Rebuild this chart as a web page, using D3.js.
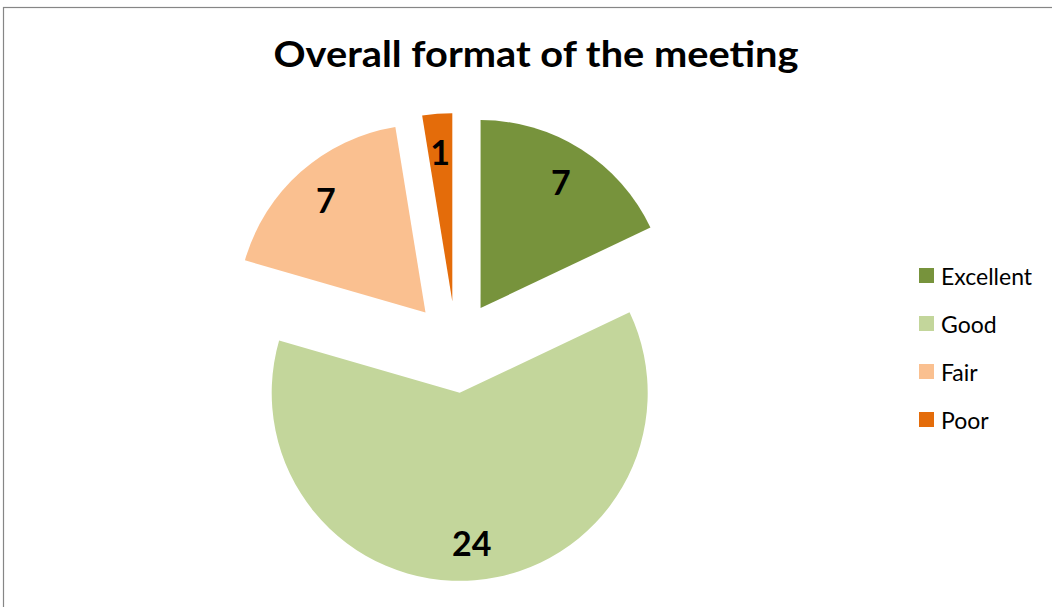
<!DOCTYPE html>
<html><head><meta charset="utf-8">
<script src="https://cdn.jsdelivr.net/npm/d3@7"></script>
<style>body{margin:0;background:#fff;} svg{display:block;}</style>
</head><body>
<svg id="c" width="1052" height="607"></svg>
<script>
const categories = ["Excellent", "Good", "Fair", "Poor"];
const values = [7, 24, 7, 1];
const colors = ["#77933C", "#C3D69B", "#FAC090", "#E46C0A"];
const title = "Overall format of the meeting";

const svg = d3.select("#c");
const font = "Lato, 'Open Sans', sans-serif";
svg.append("rect").attr("x",3.5).attr("y",7.5).attr("width",1200).attr("height",800)
  .attr("fill","#fff").attr("stroke","#868686").attr("stroke-width",1.2);

svg.append("text").attr("x",536).attr("y",67).attr("text-anchor","middle")
  .attr("font-family",font).attr("font-weight","bold").attr("font-size",37)
  .attr("textLength",525).attr("lengthAdjust","spacingAndGlyphs")
  .attr("fill","#000").text(title);

const cx = 456, cy = 347, r = 188, explode = 46;
const pie = d3.pie().sort(null).value(d=>d)(values);
const arc = d3.arc().innerRadius(0).outerRadius(r);
const g = svg.append("g").attr("transform",`translate(${cx},${cy})`);
const slices = g.selectAll("g.s").data(pie).join("g").attr("class","s")
  .attr("transform", d=>{const a=(d.startAngle+d.endAngle)/2; return `translate(${Math.sin(a)*explode},${-Math.cos(a)*explode})`;});
slices.append("path").attr("d",arc).attr("fill",(d,i)=>colors[i]);
slices.append("text").attr("font-family",font).attr("font-weight","bold").attr("font-size",34)
  .attr("text-anchor","middle").attr("dominant-baseline","central")
  .attr("transform",d=>{const a=(d.startAngle+d.endAngle)/2; const k=r*0.8; return `translate(${Math.sin(a)*k},${-Math.cos(a)*k})`;})
  .text(d=>d.data);

const leg = svg.append("g").attr("transform","translate(919,268)");
const items = leg.selectAll("g").data(categories).join("g").attr("transform",(d,i)=>`translate(0,${i*48})`);
items.append("rect").attr("width",15).attr("height",15).attr("fill",(d,i)=>colors[i]);
items.append("text").attr("x",22).attr("y",8).attr("dominant-baseline","central")
  .attr("font-family",font).attr("font-size",23).attr("fill","#000").text(d=>d);
</script>
</body></html>
